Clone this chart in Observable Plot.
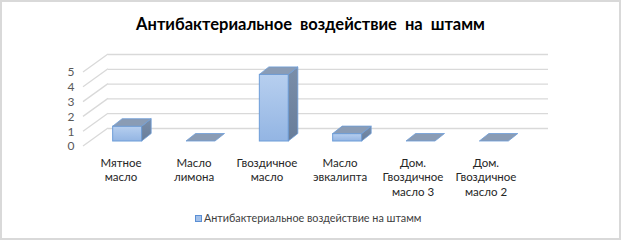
<!DOCTYPE html>
<html><head><meta charset="utf-8">
<script src="https://cdn.jsdelivr.net/npm/d3@7"></script>
<script src="https://cdn.jsdelivr.net/npm/@observablehq/plot@0.6"></script>
<style>
body{margin:0;background:#fff;}
#chart{position:relative;width:621px;height:240px;box-shadow:inset 0 0 0 2px #d9d9d9;font-family:Lato,"Open Sans",sans-serif;overflow:hidden;}
#title{position:absolute;left:0;width:621px;top:13px;text-align:center;font-weight:bold;font-size:16.5px;color:#000;white-space:pre;line-height:22px;}
#legend{position:absolute;left:195px;top:211px;font-size:10.8px;color:#404040;line-height:14px;display:flex;align-items:center;white-space:nowrap;}
#legend .sw{width:5px;height:5px;background:#a3c1ea;border:1px solid #5b8fd4;margin-right:2px;}
#plot{position:absolute;left:0;top:0;}
</style></head>
<body>
<div id="chart">
  <div id="plot"></div>
  <div id="title"></div>
  <div id="legend"><span class="sw"></span><span id="legtext"></span></div>
</div>
<script>
const titleText = "Антибактериальное  воздействие  на  штамм";
const seriesName = "Антибактериальное воздействие на штамм";
const categories = ["Мятное масло","Масло лимона","Гвоздичное масло","Масло эвкалипта","Дом. Гвоздичное масло 3","Дом. Гвоздичное масло 2"];
const xTickLabels = ["Мятное\nмасло","Масло\nлимона","Гвоздичное\nмасло","Масло\nэвкалипта","Дом.\nГвоздичное\nмасло 3","Дом.\nГвоздичное\nмасло 2"];
const values = [1, 0, 4.5, 0.5, 0, 0];
const yTicks = [0, 1, 2, 3, 4, 5];

document.getElementById("title").textContent = titleText;
document.getElementById("legtext").textContent = seriesName;

const W = 621, H = 240;
const mL = 83, mR = 98, mT = 72, mB = 94;
const xOpts = {type: "band", domain: categories, range: [mL, W - mR], padding: 0};
const yOpts = {type: "linear", domain: [0, 5], range: [H - mB, mT]};
const sx = Plot.scale({x: xOpts});
const sy = Plot.scale({y: yOpts});

const wallDX = 25, wallDY = -18;     // depth of the 3D floor
const barOff = [7.5, -5];            // bar front plane relative to front floor edge
const barD = [9.5, -7.5];            // bar depth
const barW = 29;

const data = categories.map((c, i) => ({category: c, value: values[i]}));

function depthMark() {
  const g = d3.create("svg:g");
  const defs = g.append("defs");
  const grad = defs.append("linearGradient").attr("id", "frontGrad").attr("x1", 0).attr("y1", 0).attr("x2", 0).attr("y2", 1);
  grad.append("stop").attr("offset", "0%").attr("stop-color", "#b7cfef");
  grad.append("stop").attr("offset", "100%").attr("stop-color", "#93b5e3");
  const sgrad = defs.append("linearGradient").attr("id", "sideGrad").attr("x1", 0).attr("y1", 0).attr("x2", 0).attr("y2", 1);
  sgrad.append("stop").attr("offset", "0%").attr("stop-color", "#7a8ea9");
  sgrad.append("stop").attr("offset", "100%").attr("stop-color", "#687d9a");
  const x0 = sx.range[0];
  g.append("g").selectAll("line").data(yTicks).join("line")
    .attr("x1", x0).attr("y1", d => sy.apply(d))
    .attr("x2", x0 + wallDX).attr("y2", d => sy.apply(d) + wallDY)
    .attr("stroke", "#d9d9d9").attr("stroke-width", 1.3);
  const bw = sx.bandwidth;
  const bars = g.append("g");
  data.forEach(d => {
    const cx = sx.apply(d.category) + bw / 2 + barOff[0];
    const xa = cx - barW / 2, xb = cx + barW / 2;
    const yb = sy.apply(0) + barOff[1];
    const yt = sy.apply(d.value) + barOff[1];
    const [ddx, ddy] = barD;
    if (yb - yt > 0.5) {
      bars.append("rect").attr("x", xa).attr("y", yt).attr("width", barW).attr("height", yb - yt)
        .attr("fill", "url(#frontGrad)").attr("stroke", "#6d9dd8").attr("stroke-width", 1);
      bars.append("path").attr("d", `M${xb},${yt}L${xb + ddx},${yt + ddy}L${xb + ddx},${yb + ddy}L${xb},${yb}Z`)
        .attr("fill", "url(#sideGrad)").attr("stroke", "#6d9dd8").attr("stroke-width", 0.8);
    }
    bars.append("path").attr("d", `M${xa},${yt}L${xb},${yt}L${xb + ddx},${yt + ddy}L${xa + ddx},${yt + ddy}Z`)
      .attr("fill", "#8a9cb5").attr("stroke", "#6d9dd8").attr("stroke-width", 0.8);
  });
  return g.node();
}

const chart = Plot.plot({
  width: W, height: H,
  marginLeft: mL, marginRight: mR, marginTop: mT, marginBottom: mB,
  style: {background: "transparent", fontFamily: "Lato, 'Open Sans', sans-serif", overflow: "visible"},
  x: {...xOpts, axis: null},
  y: {...yOpts, axis: null},
  marks: [
    Plot.ruleY(yTicks, {y: d => d, dx: wallDX, dy: wallDY, stroke: "#d9d9d9", strokeWidth: 1.3}),
    depthMark,
    Plot.axisY(yTicks, {tickSize: 0, tickPadding: 9, fill: "#595959", fontSize: 12, tickFormat: d => String(d)}),
    Plot.axisX({tickSize: 0, tickPadding: 11, fill: "#262626", fontSize: 11.5, lineHeight: 1.22, tickFormat: d => xTickLabels[categories.indexOf(d)]})
  ]
});
document.getElementById("plot").appendChild(chart);
</script>
</body></html>
